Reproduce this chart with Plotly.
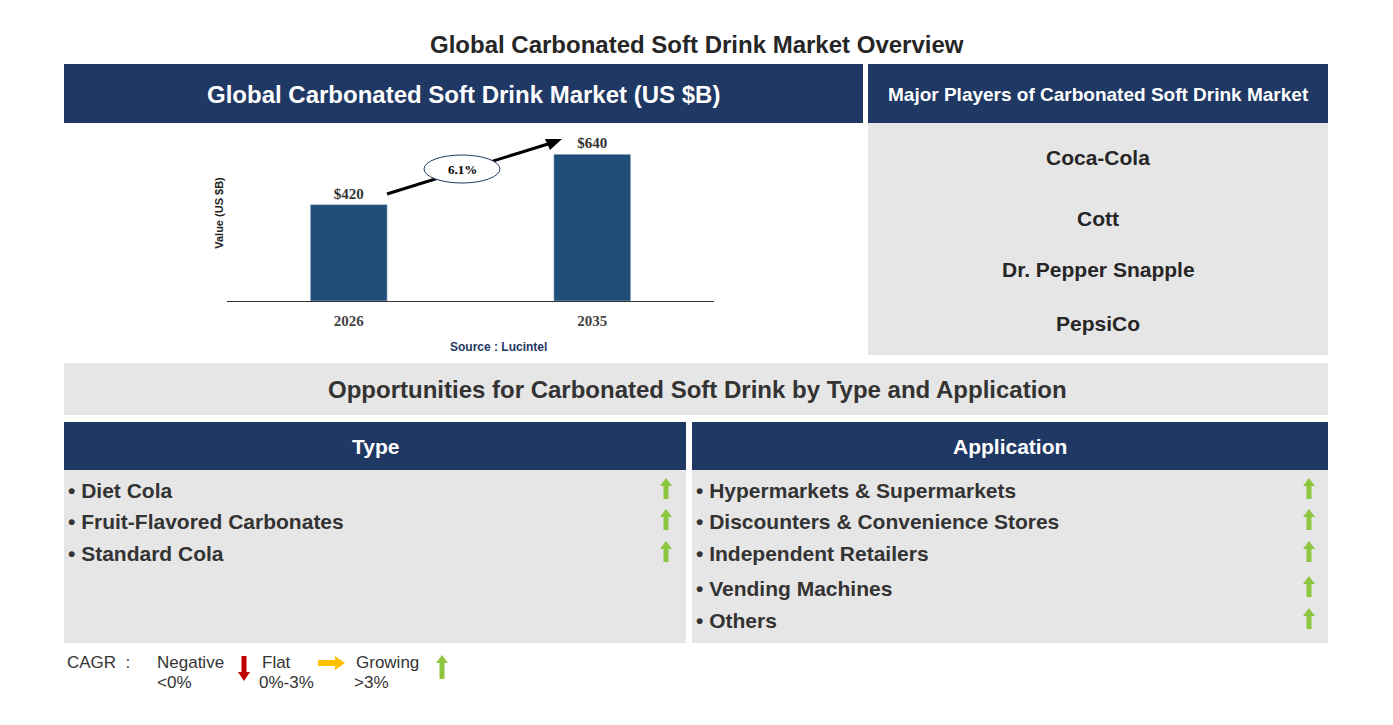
import plotly.graph_objects as go

W, H = 1393, 725
years = ["2026", "2035"]
values = [420, 640]
bar_labels = ["<b>$420</b>", "<b>$640</b>"]
cagr_label = "6.1%"
players = ["Coca-Cola", "Cott", "Dr. Pepper Snapple", "PepsiCo"]
types = ["Diet Cola", "Fruit-Flavored Carbonates", "Standard Cola"]
applications = ["Hypermarkets & Supermarkets", "Discounters & Convenience Stores",
                "Independent Retailers", "Vending Machines", "Others"]

NAVY = "#203864"
GRAY = "#E7E6E6"
BAR = "#1F4E79"
TXT = "#262626"
GREEN = "#8CC63F"
FONT = "Liberation Sans"
OFF = 8  # page body margin

def px(x): return (x - OFF) / W
def py(y): return 1 - (y - OFF) / H

fig = go.Figure()
fig.add_trace(go.Bar(x=years, y=values, marker_color=BAR, width=0.316,
                     text=bar_labels, textposition="outside",
                     textfont=dict(family="Liberation Serif", size=15, color="#333"),
                     cliponaxis=False, hoverinfo="skip"))

shapes, ann = [], []

def rect(x0, y0, x1, y1, color):
    shapes.append(dict(type="rect", xref="paper", yref="paper", x0=px(x0), x1=px(x1),
                       y0=py(y1), y1=py(y0), fillcolor=color, line_width=0, layer="below"))

def text(x, y, s, size, color=TXT, bold=True, xanchor="center", family=FONT):
    ann.append(dict(xref="paper", yref="paper", x=px(x), y=py(y), text=f"<b>{s}</b>" if bold else s,
                    showarrow=False, xanchor=xanchor, yanchor="middle",
                    font=dict(family=family, size=size, color=color)))

def poly(pts, color):
    path = "M " + " L ".join(f"{px(a)},{py(b)}" for a, b in pts) + " Z"
    shapes.append(dict(type="path", xref="paper", yref="paper", path=path, fillcolor=color, line_width=0))

def up_arrow(cx, yt, yb, color=GREEN):
    hw, sw, hh = 6, 2.5, 8
    poly([(cx, yt), (cx + hw, yt + hh), (cx + sw, yt + hh), (cx + sw, yb), (cx - sw, yb),
          (cx - sw, yt + hh), (cx - hw, yt + hh)], color)

def down_arrow(cx, yt, yb, color):
    hw, sw, hh = 6, 2.5, 9
    poly([(cx, yb), (cx + hw, yb - hh), (cx + sw, yb - hh), (cx + sw, yt), (cx - sw, yt),
          (cx - sw, yb - hh), (cx - hw, yb - hh)], color)

def right_arrow(xl, xr, cy, color):
    hw, sw, hl = 7, 3, 10
    poly([(xr, cy), (xr - hl, cy - hw), (xr - hl, cy - sw), (xl, cy - sw), (xl, cy + sw),
          (xr - hl, cy + sw), (xr - hl, cy + hw)], color)

text(697, 44, "Global Carbonated Soft Drink Market Overview", 24)
rect(64, 64, 863, 123, NAVY)
text(463, 94, "Global Carbonated Soft Drink Market (US $B)", 24, "white")
rect(868, 64, 1328, 123, NAVY)
text(1098, 94, "Major Players of Carbonated Soft Drink Market", 19, "white")
rect(868, 123, 1328, 355, GRAY)
for p, y in zip(players, [158, 218, 270, 323]):
    text(1098, y, p, 21)

rect(64, 363, 1328, 415, GRAY)
text(697, 389, "Opportunities for Carbonated Soft Drink by Type and Application", 24, "#333")
rect(64, 422, 686, 470, NAVY)
text(375, 446, "Type", 21, "white")
rect(692, 422, 1328, 470, NAVY)
text(1010, 446, "Application", 21, "white")
rect(64, 470, 686, 643, GRAY)
rect(692, 470, 1328, 643, GRAY)
for t, y in zip(types, [490, 521, 553]):
    text(66, y, "• " + t, 21, "#333", xanchor="left")
    up_arrow(666, y - 12, y + 9)
for t, y in zip(applications, [490, 521, 553, 588, 620]):
    text(694, y, "• " + t, 21, "#333", xanchor="left")
    up_arrow(1309, y - 12, y + 9)

# legend
text(65, 662, "CAGR  :", 17, "#333", bold=False, xanchor="left")
text(155, 662, "Negative", 17, "#333", bold=False, xanchor="left")
text(155, 682, "&lt;0%", 17, "#333", bold=False, xanchor="left")
down_arrow(244, 656, 681, "#C00000")
text(260, 662, "Flat", 17, "#333", bold=False, xanchor="left")
text(257, 682, "0%-3%", 17, "#333", bold=False, xanchor="left")
right_arrow(318, 345, 663, "#FFC000")
text(354, 662, "Growing", 17, "#333", bold=False, xanchor="left")
text(352, 682, "&gt;3%", 17, "#333", bold=False, xanchor="left")
up_arrow(442, 655, 679)

# CAGR arrow (shapes) then ellipse on top
shapes.append(dict(type="line", xref="paper", yref="paper", x0=px(387), y0=py(194),
                   x1=px(548), y1=py(144), line=dict(color="black", width=3)))
poly([(562, 139), (545, 139), (550, 150)], "black")
shapes.append(dict(type="circle", xref="paper", yref="paper", x0=px(424), x1=px(500),
                   y0=py(183), y1=py(155), fillcolor="white", line=dict(color="#1F3864", width=1)))
text(462, 169, cagr_label, 13, "black", family="Liberation Serif")
text(498, 347, "Source : Lucintel", 12, "#1F3864")

fig.update_layout(
    width=W, height=H, margin=dict(l=0, r=0, t=0, b=0), showlegend=False,
    paper_bgcolor="white", plot_bgcolor="white", shapes=shapes, annotations=ann,
    xaxis=dict(domain=[px(227), px(714)], range=[-0.5, 1.5], showline=True, linecolor="#333",
               linewidth=1, ticks="", showgrid=False, fixedrange=True, ticklabelstandoff=6,
               tickvals=years, ticktext=[f"<b>{y}</b>" for y in years],
               tickfont=dict(family="Liberation Serif", size=15, color="#444")),
    yaxis=dict(domain=[py(301), py(125)], range=[0, 767], visible=True, showticklabels=False,
               showgrid=False, zeroline=False, showline=False, fixedrange=True,
               title=dict(text="<b>Value (US $B)</b>", standoff=0,
                          font=dict(family=FONT, size=11, color="#222"))),
)
fig.write_html("out.html")
